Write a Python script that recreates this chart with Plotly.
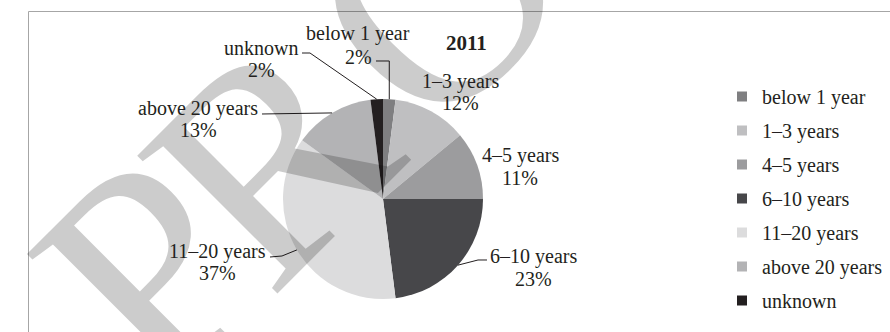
import math
import plotly.graph_objects as go

# Length-of-service distribution, 2011
categories = ["below 1 year", "1–3 years", "4–5 years", "6–10 years",
              "11–20 years", "above 20 years", "unknown"]
shares = [2, 12, 11, 23, 37, 13, 2]
colors = ["#7f7f81", "#bfbfc1", "#9c9c9e", "#47474a",
          "#dcdcdd", "#b3b3b5", "#231f20"]
chart_title = "2011"

W, H = 890, 332
CX, CY, R = 383, 199, 100          # pie centre and radius in pixels
FONT = "Liberation Serif, Times New Roman, serif"
INK = "#231f20"

# big translucent proof stamp, one letter at a time (text-box centre in pixels)
stamp_letters = [("P", 147, 269), ("R", 270, 158), ("O", 437, -4)]


def px(x):
    return x / W


def py(y):
    return 1 - y / H


# where each slice label sits (centre x, first-line y, second-line y) and
# the bend points of its leader line (None = same x as the rim point)
placements = {
    "below 1 year": dict(x=358, y1=33, y2=57, leader=[(None, 61), (376, 61)]),
    "1–3 years": dict(x=460, y1=81, y2=103, leader=[]),
    "4–5 years": dict(x=520, y1=155, y2=178, leader=[]),
    "6–10 years": dict(x=533, y1=256, y2=279, leader=[(478, 260), (487, 260)]),
    "11–20 years": dict(x=217, y1=251, y2=273, leader=[(282, 256), (270, 257)]),
    "above 20 years": dict(x=198, y1=108, y2=130, leader=[(262, 114)]),
    "unknown": dict(x=261, y1=48, y2=70, leader=[(310, 53), (302, 53)]),
}

fig = go.Figure()

fig.add_trace(go.Pie(
    labels=categories,
    values=shares,
    sort=False,
    direction="clockwise",
    rotation=0,
    marker=dict(colors=colors, line=dict(width=0)),
    textinfo="none",
    hoverinfo="label+percent",
    showlegend=False,
    domain=dict(x=[px(CX - R), px(CX + R)], y=[py(CY + R), py(CY - R)]),
))

# legend entries
for name, col in zip(categories, colors):
    fig.add_trace(go.Scatter(
        x=[None], y=[None], mode="markers", name=name, legendgroup=name,
        marker=dict(symbol="square", size=10, color=col),
    ))

annotations = []
for ch, sx, sy in stamp_letters:
    annotations.append(dict(
        x=px(sx), y=py(sy), xref="paper", yref="paper", text=ch,
        showarrow=False, xanchor="center", yanchor="middle", textangle=-45,
        font=dict(family=FONT, size=300, color="rgba(0,0,0,0.2)"),
    ))

shapes = []
total = sum(shares)
cum = 0
for name, val in zip(categories, shares):
    mid = (cum + val / 2) / total * 2 * math.pi
    cum += val
    rx = CX + R * math.sin(mid)
    ry = CY - R * math.cos(mid)
    p = placements[name]
    pct = f"{round(val / total * 100)}%"
    for txt, yy in ((name, p["y1"]), (pct, p["y2"])):
        annotations.append(dict(
            x=px(p["x"]), y=py(yy), xref="paper", yref="paper",
            text=txt, showarrow=False, xanchor="center", yanchor="middle",
            font=dict(family=FONT, size=20, color=INK),
        ))
    if p["leader"]:
        pts = [(rx, ry)] + [((rx if x is None else x), y) for x, y in p["leader"]]
        path = "M " + " L ".join(f"{px(x):.5f},{py(y):.5f}" for x, y in pts)
        shapes.append(dict(type="path", path=path, xref="paper", yref="paper",
                           line=dict(color=INK, width=1)))

annotations.append(dict(
    x=px(466), y=py(43), xref="paper", yref="paper", text=f"<b>{chart_title}</b>",
    showarrow=False, xanchor="center", yanchor="middle",
    font=dict(family=FONT, size=21, color=INK),
))

# chart frame (top and left edges)
shapes.append(dict(type="path", xref="paper", yref="paper",
                   path=f"M {px(28.5)},{py(332)} L {px(28.5)},{py(11.5)} L {px(890)},{py(11.5)}",
                   line=dict(color="#a6a6a6", width=1)))

fig.update_layout(
    width=W, height=H,
    margin=dict(l=0, r=0, t=0, b=0),
    paper_bgcolor="white", plot_bgcolor="white",
    xaxis=dict(visible=False), yaxis=dict(visible=False),
    annotations=annotations, shapes=shapes,
    showlegend=True,
    legend=dict(
        x=px(722), y=py(77), xanchor="left", yanchor="top",
        font=dict(family=FONT, size=20, color=INK),
        tracegroupgap=5, bgcolor="rgba(0,0,0,0)",
    ),
)

fig.write_html("out.html")
